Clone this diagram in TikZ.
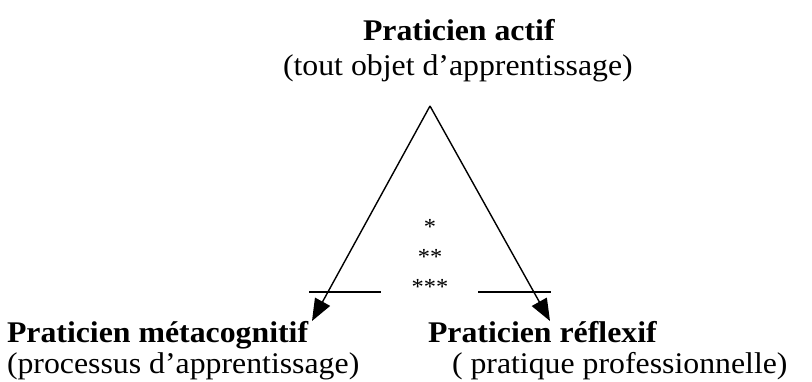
\documentclass[tikz,border=0pt]{standalone}
\usepackage{fontspec}
\setmainfont{Liberation Serif}[FakeStretch=1.06]
\usetikzlibrary{arrows.meta}
\tikzset{
  lbl/.style={inner sep=0pt, outer sep=0pt, anchor=base west, font=\fontsize{30}{36}\selectfont},
  lblb/.style={lbl, font=\fontsize{30}{36}\selectfont\bfseries},
  starlbl/.style={inner sep=0pt, outer sep=0pt, anchor=base, font=\fontsize{23}{27}\selectfont},
  edge/.style={line width=1.4pt, -{Triangle[length=22pt,width=17pt]}},
  rule/.style={line width=1.4pt}
}
\begin{document}
\begin{tikzpicture}[x=1pt,y=-1pt]
\useasboundingbox (0,0) rectangle (812,381);
% texts
\node[lblb] (top) at (363,40) {Praticien actif};
\node[lbl] (topsub) at (283,75) {(tout objet d’apprentissage)};
\node[lblb] (left) at (7,342) {Praticien métacognitif};
\node[lbl] (leftsub) at (7,373) {(processus d’apprentissage)};
\node[lblb] (right) at (428,342) {Praticien réflexif};
\node[lbl] (rightsub) at (452,373) {( pratique professionnelle)};
% stars
\node[starlbl] (s1) at (430,234) {*};
\node[starlbl] (s2) at (430,264.5) {**};
\node[starlbl] (s3) at (430,294) {***};
% triangle
\coordinate (apex) at (430,106);
\coordinate (tipL) at (312,321);
\coordinate (tipR) at (550,321);
\draw[edge] (apex) -- (tipL);
\draw[edge] (apex) -- (tipR);
% horizontal rules
\coordinate (hLa) at (309,292);
\coordinate (hLb) at (381,292);
\coordinate (hRa) at (478,292);
\coordinate (hRb) at (551,292);
\draw[rule] (hLa) -- (hLb);
\draw[rule] (hRa) -- (hRb);
\end{tikzpicture}
\end{document}
